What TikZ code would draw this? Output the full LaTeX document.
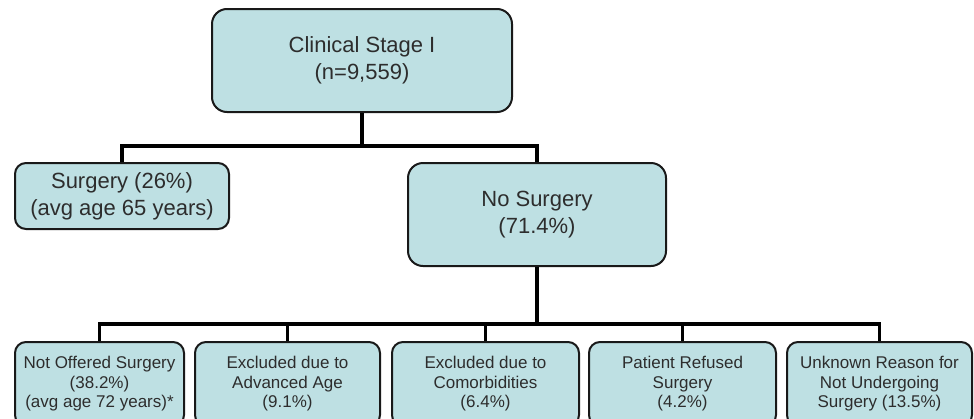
\documentclass[tikz,border=0pt]{standalone}
\usepackage{fontspec}
\setmainfont{Liberation Sans}
\definecolor{boxfill}{RGB}{190,224,227}
\definecolor{txt}{RGB}{45,45,45}
\definecolor{edge}{RGB}{25,25,25}
\begin{document}
\begin{tikzpicture}[x=1pt,y=-1pt,
  bigbox/.style={draw=edge, line width=2pt, fill=boxfill, rounded corners=15pt, inner sep=0pt, align=center, text=txt, font=\fontsize{22}{27}\selectfont},
  smallbox/.style={draw=edge, line width=2pt, fill=boxfill, rounded corners=11pt, inner sep=0pt, align=center, text=txt, font=\fontsize{17}{19.5}\selectfont, minimum height=84pt},
  conn/.style={draw=black, line width=3.5pt}]
\useasboundingbox (0,0) rectangle (974,418);
\clip (0,0) rectangle (974,418);
\node[bigbox, minimum width=300pt, minimum height=103pt] (top) at (362,60.5) {Clinical Stage I\\(n=9,559)};
\node[bigbox, rounded corners=11pt, minimum width=214pt, minimum height=66pt] (surg) at (122,196) {Surgery (26\%)\\(avg age 65 years)};
\node[bigbox, minimum width=258pt, minimum height=103pt] (nosurg) at (537,214.5) {No Surgery\\(71.4\%)};
\node[smallbox, minimum width=169pt] (b1) at (99.5,384) {Not Offered Surgery\\(38.2\%)\\(avg age 72 years)*};
\node[smallbox, minimum width=185pt] (b2) at (287.5,384) {Excluded due to\\Advanced Age\\(9.1\%)};
\node[smallbox, minimum width=187pt] (b3) at (485.5,384) {Excluded due to\\Comorbidities\\(6.4\%)};
\node[smallbox, minimum width=187pt] (b4) at (682.5,384) {Patient Refused\\Surgery\\(4.2\%)};
\node[smallbox, minimum width=185pt] (b5) at (879.5,384) {Unknown Reason for\\Not Undergoing\\Surgery (13.5\%)};
\coordinate (j1) at (362,146);
\coordinate (j2) at (537,324);
\draw[conn] (top.south) -- (j1);
\draw[conn] (surg.north) |- (j1) -| (nosurg.north);
\draw[conn] (nosurg.south) -- (j2);
\draw[conn] (b1.north) |- (j2) -| (b5.north);
\draw[conn] (b2.north) -- (b2.north |- j2);
\draw[conn] (b3.north) -- (b3.north |- j2);
\draw[conn] (b4.north) -- (b4.north |- j2);
\end{tikzpicture}
\end{document}
